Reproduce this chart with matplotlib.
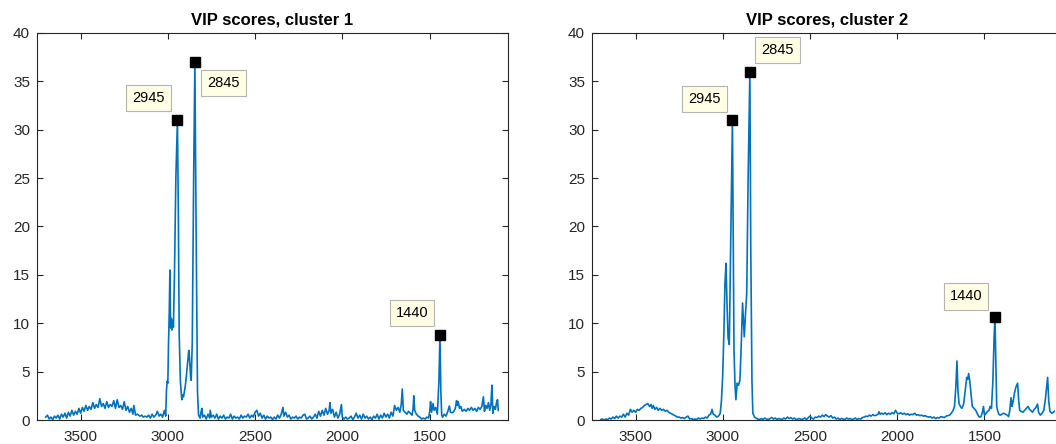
import matplotlib.pyplot as plt

# wavenumber / VIP score
wn1 = [3700, 3690, 3680, 3670, 3660, 3650, 3640, 3630, 3620, 3610, 3600, 3590, 3580, 3570, 3560,
       3550, 3540, 3530, 3520, 3510, 3500, 3490, 3480, 3470, 3460, 3450, 3440, 3430, 3420, 3410,
       3400, 3390, 3380, 3370, 3360, 3350, 3340, 3330, 3320, 3310, 3300, 3290, 3280, 3270, 3260,
       3250, 3240, 3230, 3220, 3210, 3200, 3195, 3185, 3175, 3160, 3150, 3140, 3130, 3120, 3110,
       3100, 3090, 3080, 3070, 3060, 3050, 3040, 3030, 3020, 3012, 3008, 3004, 3000, 2996, 2992,
       2988, 2984, 2980, 2976, 2972, 2968, 2962, 2954, 2945, 2940, 2935, 2928, 2920, 2915, 2910,
       2900, 2894, 2886, 2880, 2876, 2870, 2866, 2860, 2852, 2845, 2838, 2830, 2824, 2815, 2810,
       2805, 2800, 2790, 2780, 2770, 2760, 2757, 2750, 2740, 2730, 2720, 2710, 2700, 2690, 2680,
       2670, 2660, 2650, 2640, 2630, 2620, 2610, 2600, 2590, 2580, 2570, 2560, 2550, 2540, 2530,
       2520, 2510, 2500, 2490, 2480, 2470, 2460, 2450, 2440, 2430, 2420, 2410, 2400, 2390, 2380,
       2370, 2360, 2350, 2340, 2335, 2325, 2315, 2305, 2295, 2285, 2275, 2265, 2255, 2245, 2235,
       2225, 2215, 2205, 2195, 2185, 2175, 2165, 2155, 2145, 2135, 2125, 2115, 2105, 2095, 2085,
       2075, 2071, 2065, 2055, 2045, 2035, 2025, 2015, 2005, 2000, 1990, 1980, 1970, 1960, 1950,
       1940, 1930, 1920, 1910, 1900, 1890, 1880, 1870, 1860, 1850, 1840, 1830, 1820, 1810, 1800,
       1790, 1780, 1770, 1760, 1750, 1740, 1730, 1720, 1710, 1700, 1690, 1680, 1670, 1662, 1656,
       1650, 1640, 1630, 1620, 1610, 1600, 1594, 1590, 1585, 1575, 1565, 1555, 1545, 1535, 1525,
       1515, 1505, 1498, 1494, 1488, 1480, 1474, 1465, 1455, 1446, 1440, 1435, 1430, 1425, 1415,
       1405, 1395, 1386, 1380, 1370, 1360, 1352, 1345, 1340, 1335, 1328, 1320, 1312, 1300, 1290,
       1280, 1270, 1260, 1250, 1240, 1230, 1220, 1210, 1200, 1191, 1185, 1178, 1170, 1162, 1155,
       1148, 1142, 1137, 1130, 1122, 1116, 1110, 1106]
vip1 = [0.3, 0.5, 0.1, 0.3, 0.05, 0.4, 0.2, 0.5, 0.1, 0.6, 0.3, 0.7, 0.2, 0.8, 0.4,
        1.0, 0.5, 0.9, 0.6, 1.2, 0.7, 1.3, 0.9, 1.5, 1.0, 1.4, 1.1, 1.8, 1.2, 1.6,
        1.3, 2.2, 1.4, 1.7, 1.2, 1.9, 1.3, 1.6, 1.4, 2.0, 1.2, 2.1, 1.3, 1.5, 1.1,
        1.9, 1.0, 1.4, 0.8, 1.2, 0.6, 1.5, 0.5, 0.6, 0.4, 0.5, 0.3, 0.4, 0.3, 0.5,
        0.2, 0.6, 0.3, 0.5, 0.9, 0.4, 0.6, 0.3, 1.0, 0.4, 3.0, 4.0, 3.8, 8.0, 11.0,
        15.5, 9.5, 10.5, 9.3, 10.3, 9.6, 15.0, 25.0, 31.0, 22.0, 9.0, 4.0, 2.1, 2.6, 2.4,
        3.5, 4.5, 6.0, 7.2, 6.5, 4.6, 4.1, 8.0, 25.0, 37.0, 20.0, 3.0, 0.5, 0.2, 0.8,
        1.2, 0.3, 0.5, 0.1, 0.6, 0.2, 1.0, 0.3, 0.5, 0.2, 0.6, 0.1, 0.4, 0.2, 0.5,
        0.1, 0.3, 0.2, 0.6, 0.1, 0.4, 0.2, 0.3, 0.1, 0.5, 0.2, 0.4, 0.3, 0.6, 0.2,
        0.5, 0.3, 0.8, 1.0, 0.4, 0.7, 0.2, 0.5, 0.1, 0.4, 0.2, 0.3, 0.05, 0.3, 0.1,
        0.5, 0.2, 0.6, 1.3, 0.4, 0.8, 0.3, 0.5, 0.1, 0.3, 0.2, 0.4, 0.1, 0.3, 0.2,
        0.5, 0.6, 0.1, 0.2, 0.4, 0.1, 0.3, 0.6, 0.2, 0.9, 0.4, 1.0, 0.5, 1.2, 0.6,
        1.0, 1.8, 0.7, 1.1, 0.3, 0.8, 0.2, 0.6, 1.6, 0.3, 0.1, 0.3, 0.1, 0.2, 0.4,
        0.05, 0.3, 0.7, 0.2, 0.5, 0.1, 0.6, 0.2, 0.4, 0.1, 0.3, 0.05, 0.4, 0.2, 0.6,
        0.1, 0.5, 0.2, 0.7, 0.3, 0.6, 0.2, 0.8, 0.4, 1.5, 1.0, 1.3, 0.8, 1.6, 3.2,
        1.0, 0.8, 0.6, 0.9, 0.7, 0.5, 1.2, 2.5, 1.0, 0.6, 0.4, 0.3, 0.1, 0.2, 0.1,
        0.3, 0.2, 1.0, 1.9, 0.8, 1.7, 1.0, 1.3, 0.6, 4.0, 8.8, 3.0, 0.5, 0.3, 0.6,
        0.4, 0.9, 1.45, 0.8, 0.75, 0.9, 1.2, 2.0, 1.5, 1.9, 1.2, 1.4, 0.9, 1.1, 0.9,
        1.2, 1.0, 1.3, 1.0, 1.2, 0.9, 1.3, 1.1, 1.4, 2.4, 0.9, 1.5, 1.2, 1.8, 1.0,
        1.6, 3.6, 0.7, 1.4, 1.1, 1.8, 2.1, 1.0]

wn2 = [3700, 3690, 3680, 3670, 3660, 3650, 3640, 3630, 3620, 3610, 3600, 3590, 3580, 3570, 3560,
       3550, 3540, 3530, 3520, 3510, 3500, 3490, 3480, 3470, 3460, 3450, 3440, 3430, 3420, 3412,
       3405, 3398, 3390, 3380, 3370, 3360, 3350, 3340, 3330, 3320, 3310, 3300, 3290, 3280, 3270,
       3260, 3250, 3240, 3230, 3220, 3210, 3200, 3190, 3180, 3170, 3160, 3150, 3140, 3130, 3120,
       3110, 3100, 3090, 3080, 3070, 3062, 3055, 3045, 3035, 3025, 3015, 3008, 3001, 2994, 2988,
       2982, 2976, 2970, 2963, 2955, 2945, 2941, 2936, 2930, 2925, 2918, 2910, 2902, 2894, 2887,
       2881, 2877, 2870, 2863, 2855, 2845, 2840, 2833, 2828, 2818, 2810, 2800, 2790, 2780, 2770,
       2760, 2750, 2740, 2730, 2720, 2710, 2700, 2690, 2680, 2670, 2660, 2650, 2640, 2630, 2620,
       2610, 2600, 2590, 2580, 2570, 2560, 2550, 2540, 2530, 2520, 2510, 2500, 2490, 2480, 2470,
       2460, 2450, 2440, 2430, 2420, 2410, 2400, 2390, 2380, 2370, 2360, 2350, 2340, 2330, 2320,
       2310, 2300, 2290, 2280, 2270, 2260, 2250, 2240, 2230, 2220, 2210, 2200, 2190, 2180, 2170,
       2160, 2150, 2140, 2130, 2120, 2110, 2105, 2098, 2090, 2080, 2070, 2060, 2050, 2040, 2030,
       2020, 2010, 2000, 1990, 1980, 1970, 1960, 1950, 1940, 1930, 1920, 1910, 1900, 1890, 1880,
       1870, 1860, 1850, 1840, 1830, 1820, 1810, 1800, 1790, 1780, 1770, 1760, 1750, 1740, 1730,
       1720, 1710, 1700, 1690, 1680, 1672, 1664, 1658, 1652, 1646, 1638, 1630, 1620, 1610, 1602,
       1596, 1591, 1585, 1578, 1570, 1560, 1550, 1540, 1530, 1520, 1512, 1506, 1500, 1490, 1482,
       1474, 1468, 1460, 1452, 1445, 1440, 1435, 1430, 1425, 1418, 1410, 1400, 1390, 1380, 1370,
       1362, 1355, 1348, 1342, 1336, 1328, 1320, 1310, 1304, 1298, 1290, 1280, 1270, 1260, 1250,
       1242, 1235, 1225, 1215, 1205, 1196, 1190, 1180, 1170, 1160, 1152, 1145, 1138, 1132, 1125,
       1115, 1105, 1100]
vip2 = [0.05, 0.1, 0.0, 0.1, 0.05, 0.2, 0.1, 0.3, 0.15, 0.4, 0.2, 0.4, 0.3, 0.6, 0.3,
        0.7, 0.5, 1.1, 0.8, 1.0, 0.8, 1.1, 1.0, 1.2, 1.3, 1.5, 1.6, 1.7, 1.4, 1.6,
        1.2, 1.5, 1.1, 1.3, 1.0, 1.2, 1.0, 1.1, 0.9, 1.0, 0.8, 0.7, 0.6, 0.5, 0.4,
        0.3, 0.3, 0.2, 0.25, 0.15, 0.3, 0.4, 0.1, 0.15, 0.05, 0.1, 0.05, 0.2, 0.1, 0.2,
        0.15, 0.3, 0.2, 0.5, 0.6, 1.1, 0.6, 0.5, 0.3, 0.4, 0.7, 2.0, 4.5, 9.0, 14.0,
        16.2, 12.0, 8.5, 7.8, 18.0, 31.0, 20.0, 7.2, 3.5, 2.1, 3.8, 3.6, 4.1, 8.0, 12.1,
        10.0, 8.6, 11.0, 13.1, 25.0, 36.0, 18.0, 4.0, 0.7, 0.3, 0.2, 0.1, 0.05, 0.15, 0.05,
        0.2, 0.1, 0.05, 0.15, 0.25, 0.1, 0.2, 0.05, 0.15, 0.1, 0.05, 0.2, 0.1, 0.3, 0.15,
        0.25, 0.1, 0.2, 0.05, 0.1, 0.15, 0.05, 0.1, 0.2, 0.05, 0.25, 0.4, 0.2, 0.1, 0.3,
        0.25, 0.4, 0.3, 0.5, 0.35, 0.55, 0.4, 0.3, 0.45, 0.2, 0.3, 0.1, 0.2, 0.05, 0.15,
        0.1, 0.05, 0.2, 0.1, 0.15, 0.05, 0.1, 0.2, 0.05, 0.15, 0.1, 0.25, 0.3, 0.4, 0.35,
        0.5, 0.4, 0.55, 0.45, 0.5, 0.6, 0.85, 0.6, 0.7, 0.6, 0.75, 0.55, 0.7, 0.6, 0.75,
        0.65, 1.0, 0.7, 0.65, 0.75, 0.6, 0.7, 0.55, 0.65, 0.5, 0.6, 0.55, 0.7, 0.5, 0.55,
        0.45, 0.5, 0.4, 0.45, 0.35, 0.3, 0.35, 0.2, 0.3, 0.15, 0.25, 0.2, 0.35, 0.3, 0.25,
        0.4, 0.45, 0.5, 0.7, 1.0, 1.4, 3.5, 6.1, 3.0, 1.7, 1.4, 1.2, 1.6, 3.1, 4.4,
        4.2, 4.8, 4.1, 2.8, 1.4, 1.2, 1.0, 0.6, 0.3, 0.35, 0.8, 1.4, 0.5, 0.7, 0.9,
        1.0, 1.4, 1.2, 4.0, 8.5, 10.6, 6.0, 1.4, 1.0, 0.6, 0.5, 0.6, 0.7, 0.6, 0.5,
        0.35, 1.0, 2.3, 1.4, 1.9, 2.8, 3.4, 3.8, 2.0, 1.0, 0.9, 0.8, 1.0, 1.2, 1.4,
        1.1, 1.0, 0.8, 1.1, 1.3, 1.65, 0.8, 0.5, 0.7, 1.0, 2.0, 3.2, 4.4, 2.0, 0.9,
        0.7, 0.8, 0.9]

# data tips: label, x, y, label offset in pixels
tips1 = [(2945, 31.0, -29, 22), (2845, 37.0, 29, -21), (1440, 8.8, -28, 22)]
tips2 = [(2945, 31.0, -28, 21), (2845, 36.0, 28, 22), (1440, 10.6, -29, 21)]

plt.rcParams['font.family'] = ['Liberation Sans', 'DejaVu Sans']
grey = '#262626'

fig = plt.figure(figsize=(10.56, 4.44), dpi=100)
W, H = 1056, 444
ax1 = fig.add_axes([37 / W, 24 / H, 471 / W, 387 / H])
ax2 = fig.add_axes([592 / W, 24 / H, 471 / W, 387 / H])

for ax, wn, vip, tips, title in [(ax1, wn1, vip1, tips1, 'VIP scores, cluster 1'),
                                 (ax2, wn2, vip2, tips2, 'VIP scores, cluster 2')]:
    ax.plot(wn, vip, color='#0072BD', lw=1.2)
    ax.set_xlim(3750, 1050)
    ax.set_ylim(0, 40)
    ax.set_xticks([3500, 3000, 2500, 2000, 1500])
    ax.set_yticks(range(0, 41, 5))
    ax.tick_params(direction='in', top=True, right=True, length=4, width=0.8,
                   colors=grey, labelsize=11)
    ax.tick_params(axis='x', pad=7)
    ax.tick_params(axis='y', pad=5)
    for s in ax.spines.values():
        s.set_color(grey)
        s.set_linewidth(0.8)
    ax.set_title(title, fontsize=12, fontweight='bold', color='black', pad=6)
    for w, v, dx, dy in tips:
        ax.plot(w, v, 's', color='black', ms=7, zorder=4)
        ax.annotate(str(w), xy=(w, v), xytext=(dx, dy), textcoords='offset pixels',
                    ha='center', va='center', fontsize=10.5, color='black', zorder=5,
                    bbox=dict(boxstyle='square,pad=0.42', fc='#FFFFE6', ec='#B4B4B4', lw=0.8))

fig.savefig('out.png', dpi=100)
